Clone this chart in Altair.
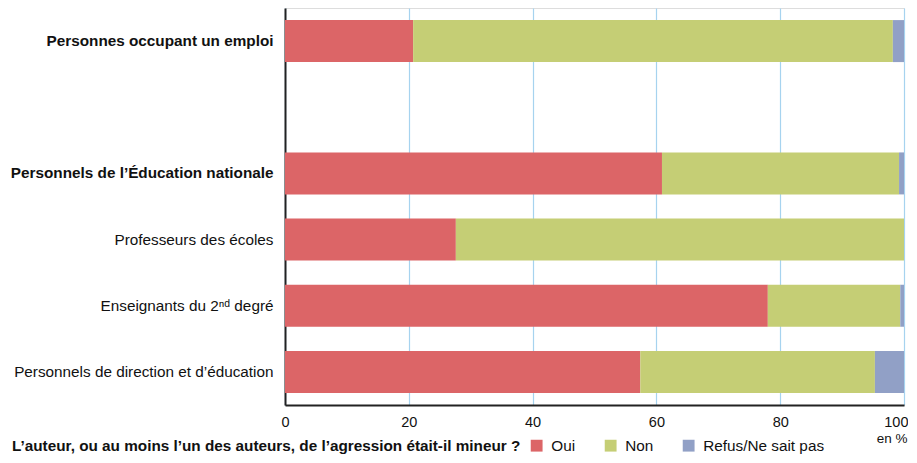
import altair as alt
import pandas as pd

categories = [
    "Personnes occupant un emploi",
    "Personnels de l’Éducation nationale",
    "Professeurs des écoles",
    "Enseignants du 2ⁿᵈ degré",
    "Personnels de direction et d’éducation",
]
oui = [20.7, 60.9, 27.6, 78.0, 57.4]
non = [77.5, 38.3, 72.4, 21.4, 37.9]
refus = [1.8, 0.8, 0.0, 0.6, 4.7]
series = ["Oui", "Non", "Refus/Ne sait pas"]
colors = ["#DC6567", "#C5CE75", "#91A0C6"]
x_ticks = [0, 20, 40, 60, 80, 100]

rows = []
for i, c in enumerate(categories):
    for j, (s, vals) in enumerate(zip(series, [oui, non, refus])):
        rows.append({"cat": c, "serie": s, "val": vals[i], "ordre": j})
df = pd.DataFrame(rows)

y_domain = [categories[0], " "] + categories[1:]

FONT = "Liberation Sans"
FS = 15.3

bars = alt.Chart(df).mark_bar(size=42).encode(
    y=alt.Y(
        "cat:N",
        scale=alt.Scale(domain=y_domain, paddingInner=0.36, paddingOuter=0.18),
        axis=alt.Axis(
            title=None,
            ticks=False,
            grid=False,
            labelFont=FONT,
            labelFontSize=FS,
            labelColor="#111111",
            labelPadding=12,
            labelLimit=300,
            labelFontWeight={
                "condition": {
                    "test": "indexof(datum.value, 'Personnes occupant') == 0 || indexof(datum.value, 'Personnels de l') == 0",
                    "value": "bold",
                },
                "value": "normal",
            },
            domainColor="#222222",
            domainWidth=2,
        ),
    ),
    x=alt.X(
        "val:Q",
        stack="zero",
        scale=alt.Scale(domain=[0, 100], nice=False),
        axis=alt.Axis(
            values=x_ticks,
            title="en %",
            titleFont=FONT,
            titleFontSize=13.5,
            titleFontWeight="normal",
            titleColor="#111111",
            titleAnchor="end",
            titleAlign="right",
            titleBaseline="top",
            titleX=622,
            titleY=26,
            ticks=False,
            labelFont=FONT,
            labelFontSize=14.5,
            labelColor="#111111",
            labelPadding=10,
            labelFlush=False,
            labelAlign={
                "condition": {"test": "datum.value == 100", "value": "right"},
                "value": "center",
            },
            labelOffset={
                "condition": {"test": "datum.value == 100", "value": 4},
                "value": 0,
            },
            gridColor="#A6D3EF",
            gridWidth=1.2,
            domainColor="#222222",
            domainWidth=2,
        ),
    ),
    color=alt.Color(
        "serie:N",
        scale=alt.Scale(domain=series, range=colors),
        legend=alt.Legend(
            title="L’auteur, ou au moins l’un des auteurs, de l’agression était-il mineur ?",
            titleOrient="left",
            titleFont=FONT,
            titleFontSize=FS,
            titleFontWeight="bold",
            titleColor="#111111",
            titleLimit=600,
            titlePadding=8,
            direction="horizontal",
            orient="none",
            legendX=-273,
            legendY=430,
            symbolType="square",
            symbolSize=140,
            symbolStrokeWidth=0,
            labelFont=FONT,
            labelFontSize=FS,
            labelColor="#111111",
            labelOffset=7,
            columnPadding=27,
        ),
    ),
    order=alt.Order("ordre:Q"),
)

chart = bars.properties(
    width=619,
    height=397,
    autosize=alt.AutoSizeParams(type="none"),
    padding={"left": 277, "top": 0, "right": 4, "bottom": 50},
).configure_view(stroke=None).configure(background="white")

chart.save("out.html", embed_options={"renderer": "svg", "actions": False})
